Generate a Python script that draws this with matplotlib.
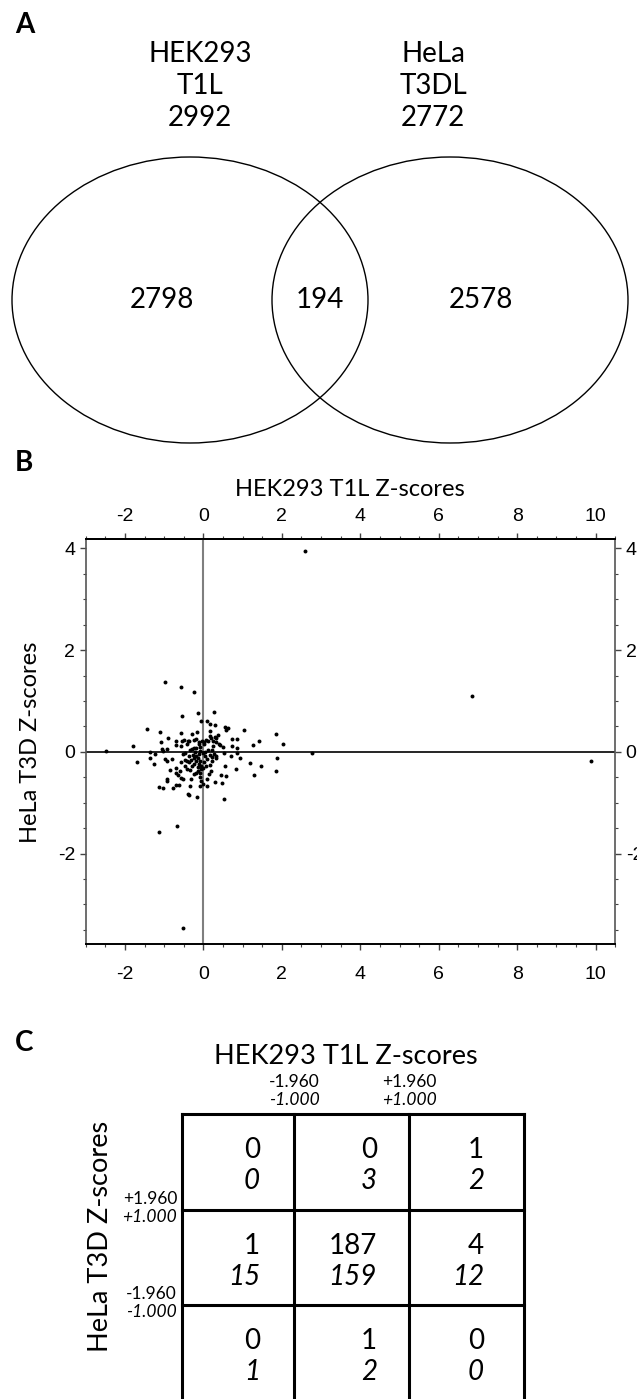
import matplotlib
matplotlib.use("Agg")
import matplotlib.pyplot as plt
from matplotlib.patches import Ellipse
from matplotlib.ticker import MultipleLocator

# ---------------- data ----------------
venn_names = ["HEK293\nT1L", "HeLa\nT3DL"]
venn_totals = [2992, 2772]
venn_regions = [2798, 194, 2578]   # HEK only, shared, HeLa only

hek_z = [
    -0.97, -0.58, -0.25, -0.54, -0.14, 0.27, -0.06, 0.08, 0.16, 0.29,
    -1.45, -1.10, 0.54, 0.64, 0.57, 1.04, 1.85, 2.02, 1.41, 1.27,
    2.78, -2.48, -1.79, -1.68, -1.37, -1.37, -1.25, -1.24, -1.08, -1.05,
    -1.04, -0.92, -0.89, -0.97, -0.92, -0.80, -0.85, -0.92, -0.92, -1.13,
    -1.03, -0.78, -0.69, -0.61, -0.71, -0.70, -0.64, -0.59, -0.58, -0.53,
    -0.71, -0.71, -0.58, -0.57, -0.54, -0.49, -0.43, -0.40, -0.36, -0.30,
    -0.17, -0.20, -0.23, -0.53, -0.46, -0.48, -0.42, -0.36, -0.33, -0.28,
    -0.25, -0.18, -0.11, -0.10, -0.08, -0.03, 0.01, 0.02, 0.06, 0.13,
    0.17, 0.18, 0.20, 0.25, 0.25, 0.30, 0.33, 0.38, 0.50, 0.74,
    0.86, 0.74, 0.85, 0.86, 0.53, 0.70, 0.94, 1.19, 1.46, 1.87,
    1.84, 1.28, 0.82, 0.55, 0.58, 0.46, 0.47, 0.30, 0.53, 0.09,
    -0.01, -0.08, -0.16, -0.33, -0.40, -0.36, -1.14, -0.68, -0.08, -0.20,
    0.14, 0.20, 0.32, 0.32, 0.21, 0.23, 0.17, 0.06, -0.01, -0.07,
    -0.14, -0.23, -0.29, -0.35, -0.43, -0.48, -0.58, -0.25, -0.18, -0.12,
    -0.08, -0.02, 0.04, 0.05, 0.09, 0.01, -0.08, -0.13, 0.13, 0.16,
    -0.08, -0.14, -0.25, 0.08, -0.05, -0.31, 0.32, 0.39, 0.43, 0.21,
    0.27, -0.21, -0.27, -0.37, -0.31, -0.19, -0.12, -0.05,
    2.59, 6.84, 9.89, -0.52,
]
hela_z = [
    1.38, 1.27, 1.17, 0.70, 0.77, 0.79, 0.61, 0.60, 0.55, 0.53,
    0.45, 0.39, 0.49, 0.47, 0.42, 0.43, 0.36, 0.15, 0.21, 0.13,
    -0.02, 0.01, 0.11, -0.21, 0.00, -0.13, -0.24, -0.05, 0.19, 0.06,
    0.02, 0.05, 0.28, -0.15, -0.19, -0.15, -0.36, -0.54, -0.58, -0.69,
    -0.72, -0.72, -0.66, -0.66, -0.32, -0.41, -0.46, -0.37, -0.51, -0.53,
    0.22, 0.13, 0.11, 0.37, 0.21, 0.23, 0.16, 0.22, 0.21, 0.36,
    0.38, 0.26, 0.24, -0.04, -0.02, -0.17, -0.18, -0.09, 0.04, 0.06,
    0.08, 0.07, 0.15, 0.19, 0.09, 0.21, 0.19, 0.15, 0.24, 0.21,
    0.40, 0.31, 0.28, 0.21, 0.11, 0.30, 0.27, 0.34, 0.09, 0.26,
    0.26, 0.11, 0.08, -0.02, -0.02, -0.08, -0.13, -0.22, -0.27, -0.13,
    -0.38, -0.46, -0.34, -0.27, -0.47, -0.46, -0.62, -0.59, -0.92, -0.68,
    -0.63, -0.67, -0.89, -0.68, -0.82, -0.85, -1.57, -1.46, -0.50, -0.41,
    -0.44, -0.38, -0.08, -0.13, -0.10, -0.19, -0.26, -0.28, -0.32, -0.34,
    -0.29, -0.23, -0.28, -0.36, -0.34, -0.28, -0.21, -0.12, -0.08, -0.05,
    0.02, -0.02, 0.00, -0.08, -0.15, -0.21, -0.18, -0.13, 0.03, -0.06,
    -0.41, -0.37, -0.44, -0.53, -0.57, -0.54, 0.19, 0.16, 0.13, 0.04,
    -0.04, -0.01, -0.06, -0.21, -0.17, -0.19, -0.24, -0.27,
    3.95, 1.09, -0.19, -3.47,
]

x_ticks = [-2, 0, 2, 4, 6, 8, 10]
y_ticks = [-2, 0, 2, 4]

cut_labels = ["-1.960", "+1.960"]
cut_labels_it = ["-1.000", "+1.000"]
row_cut_labels = ["+1.960", "-1.960"]
row_cut_labels_it = ["+1.000", "-1.000"]
counts_196 = [[0, 0, 1], [1, 187, 4], [0, 1, 0]]
counts_100 = [[0, 3, 2], [15, 159, 12], [1, 2, 0]]

# ---------------- figure ----------------
W, H = 637, 1399
fig = plt.figure(figsize=(W / 100, H / 100), dpi=100)
CAL = ["Lato", "DejaVu Sans"]
ARI = ["Liberation Sans", "DejaVu Sans"]

# overlay axes in pixel coordinates
ov = fig.add_axes([0, 0, 1, 1])
ov.set_xlim(0, W)
ov.set_ylim(H, 0)
ov.axis("off")

# ---- Panel A: Venn ----
ov.text(15, 25, "A", fontsize=20, fontweight="bold", family=CAL, ha="left", va="center")
venn_cx = [190, 450]
venn_label_x = [200, 433]
for cx, lx, name, tot in zip(venn_cx, venn_label_x, venn_names, venn_totals):
    ov.add_patch(Ellipse((cx, 300), 356, 286, fill=False, ec="black", lw=1.0))
    ov.text(lx, 86, f"{name}\n{tot}", fontsize=20, family=CAL,
            ha="center", va="center", linespacing=1.3)
for x, v in zip([162, 320, 481], venn_regions):
    ov.text(x, 300, str(v), fontsize=20, family=CAL, ha="center", va="center")

# ---- Panel B: scatter ----
ov.text(15, 463, "B", fontsize=20, fontweight="bold", family=CAL, ha="left", va="center")
ax = fig.add_axes([85.7 / W, 1 - 944 / H, 529.6 / W, 404.7 / H])
ax.set_xlim(-3, 10.5)
ax.set_ylim(-3.78, 4.18)
ax.axvline(0, color="#7f7f7f", lw=1.5, zorder=1)
ax.axhline(0, color="black", lw=1.2, zorder=1)
ax.scatter(hek_z, hela_z, s=8, c="black", lw=0, zorder=3)
ax.set_xticks(x_ticks)
ax.set_yticks(y_ticks)
ax.set_xticklabels([str(t) for t in x_ticks])
ax.set_yticklabels([str(t) for t in y_ticks])
ax.xaxis.set_minor_locator(MultipleLocator(0.5))
ax.yaxis.set_minor_locator(MultipleLocator(0.5))
ax.tick_params(which="both", direction="out", top=False, right=True,
               labeltop=False, labelright=True, color="#444444")
ax.tick_params(which="major", length=4.5, width=1.0, labelsize=14)
ax.tick_params(which="minor", length=2.5, width=0.8)
ax.tick_params(axis="x", which="major", pad=11)
ax.tick_params(axis="y", which="major", pad=3)
for lab in ax.get_xticklabels() + ax.get_yticklabels():
    lab.set_family(ARI)

sec = ax.secondary_xaxis("top")
sec.set_xticks(x_ticks)
sec.set_xticklabels([str(t) for t in x_ticks])
sec.xaxis.set_minor_locator(MultipleLocator(0.5))
sec.tick_params(which="both", direction="out", color="#444444")
sec.tick_params(which="major", length=4.5, width=1.0, labelsize=14, pad=6)
sec.tick_params(which="minor", length=2.5, width=0.8)
for lab in sec.get_xticklabels():
    lab.set_family(ARI)
sec.spines["top"].set_color("black")
sec.spines["top"].set_linewidth(1.4)

for s in ["top", "bottom"]:
    ax.spines[s].set_color("black")
    ax.spines[s].set_linewidth(1.4)
for s in ["left", "right"]:
    ax.spines[s].set_color("#555555")
    ax.spines[s].set_linewidth(1.2)
ov.text(350, 489, "HEK293 T1L Z-scores", fontsize=17, family=CAL, ha="center", va="center")
ov.text(31, 742, "HeLa T3D Z-scores", fontsize=17, family=CAL, ha="center",
        va="center", rotation=90)

# ---- Panel C: table ----
ov.text(15, 1043, "C", fontsize=20, fontweight="bold", family=CAL, ha="left", va="center")
ov.text(346, 1057, "HEK293 T1L Z-scores", fontsize=19.5, family=CAL, ha="center", va="center")
ov.text(101, 1236, "HeLa T3D Z-scores", fontsize=19.5, family=CAL, ha="center",
        va="center", rotation=90)
col_edges = [181.7, 294, 409.3, 524]
row_edges = [1114.3, 1210, 1305, 1399]
lw_t = 2.2
ov.plot([col_edges[0], col_edges[-1]], [row_edges[0]] * 2, color="black", lw=lw_t,
        solid_capstyle="projecting")
for r in row_edges[1:3]:
    ov.plot([col_edges[0], col_edges[-1]], [r, r], color="black", lw=lw_t)
for c in col_edges:
    ov.plot([c, c], [row_edges[0], H + 5], color="black", lw=lw_t)

for c, l1, l2 in zip(col_edges[1:3], cut_labels, cut_labels_it):
    ov.text(c, 1082, l1, fontsize=12.5, family=CAL, ha="center", va="center")
    ov.text(c, 1100, l2, fontsize=12.5, family=CAL, style="italic", ha="center", va="center")
for r, l1, l2 in zip(row_edges[1:3], row_cut_labels, row_cut_labels_it):
    ov.text(177, r - 11, l1, fontsize=12.5, family=CAL, ha="right", va="center")
    ov.text(177, r + 7, l2, fontsize=12.5, family=CAL, style="italic", ha="right", va="center")

text_right = [260, 377, 484]
for i in range(3):
    top = row_edges[i]
    for j in range(3):
        ov.text(text_right[j], top + 36, str(counts_196[i][j]), fontsize=20, family=CAL,
                ha="right", va="center")
        ov.text(text_right[j], top + 67, str(counts_100[i][j]), fontsize=20, family=CAL,
                style="italic", ha="right", va="center")

fig.savefig("out.png", dpi=100)
